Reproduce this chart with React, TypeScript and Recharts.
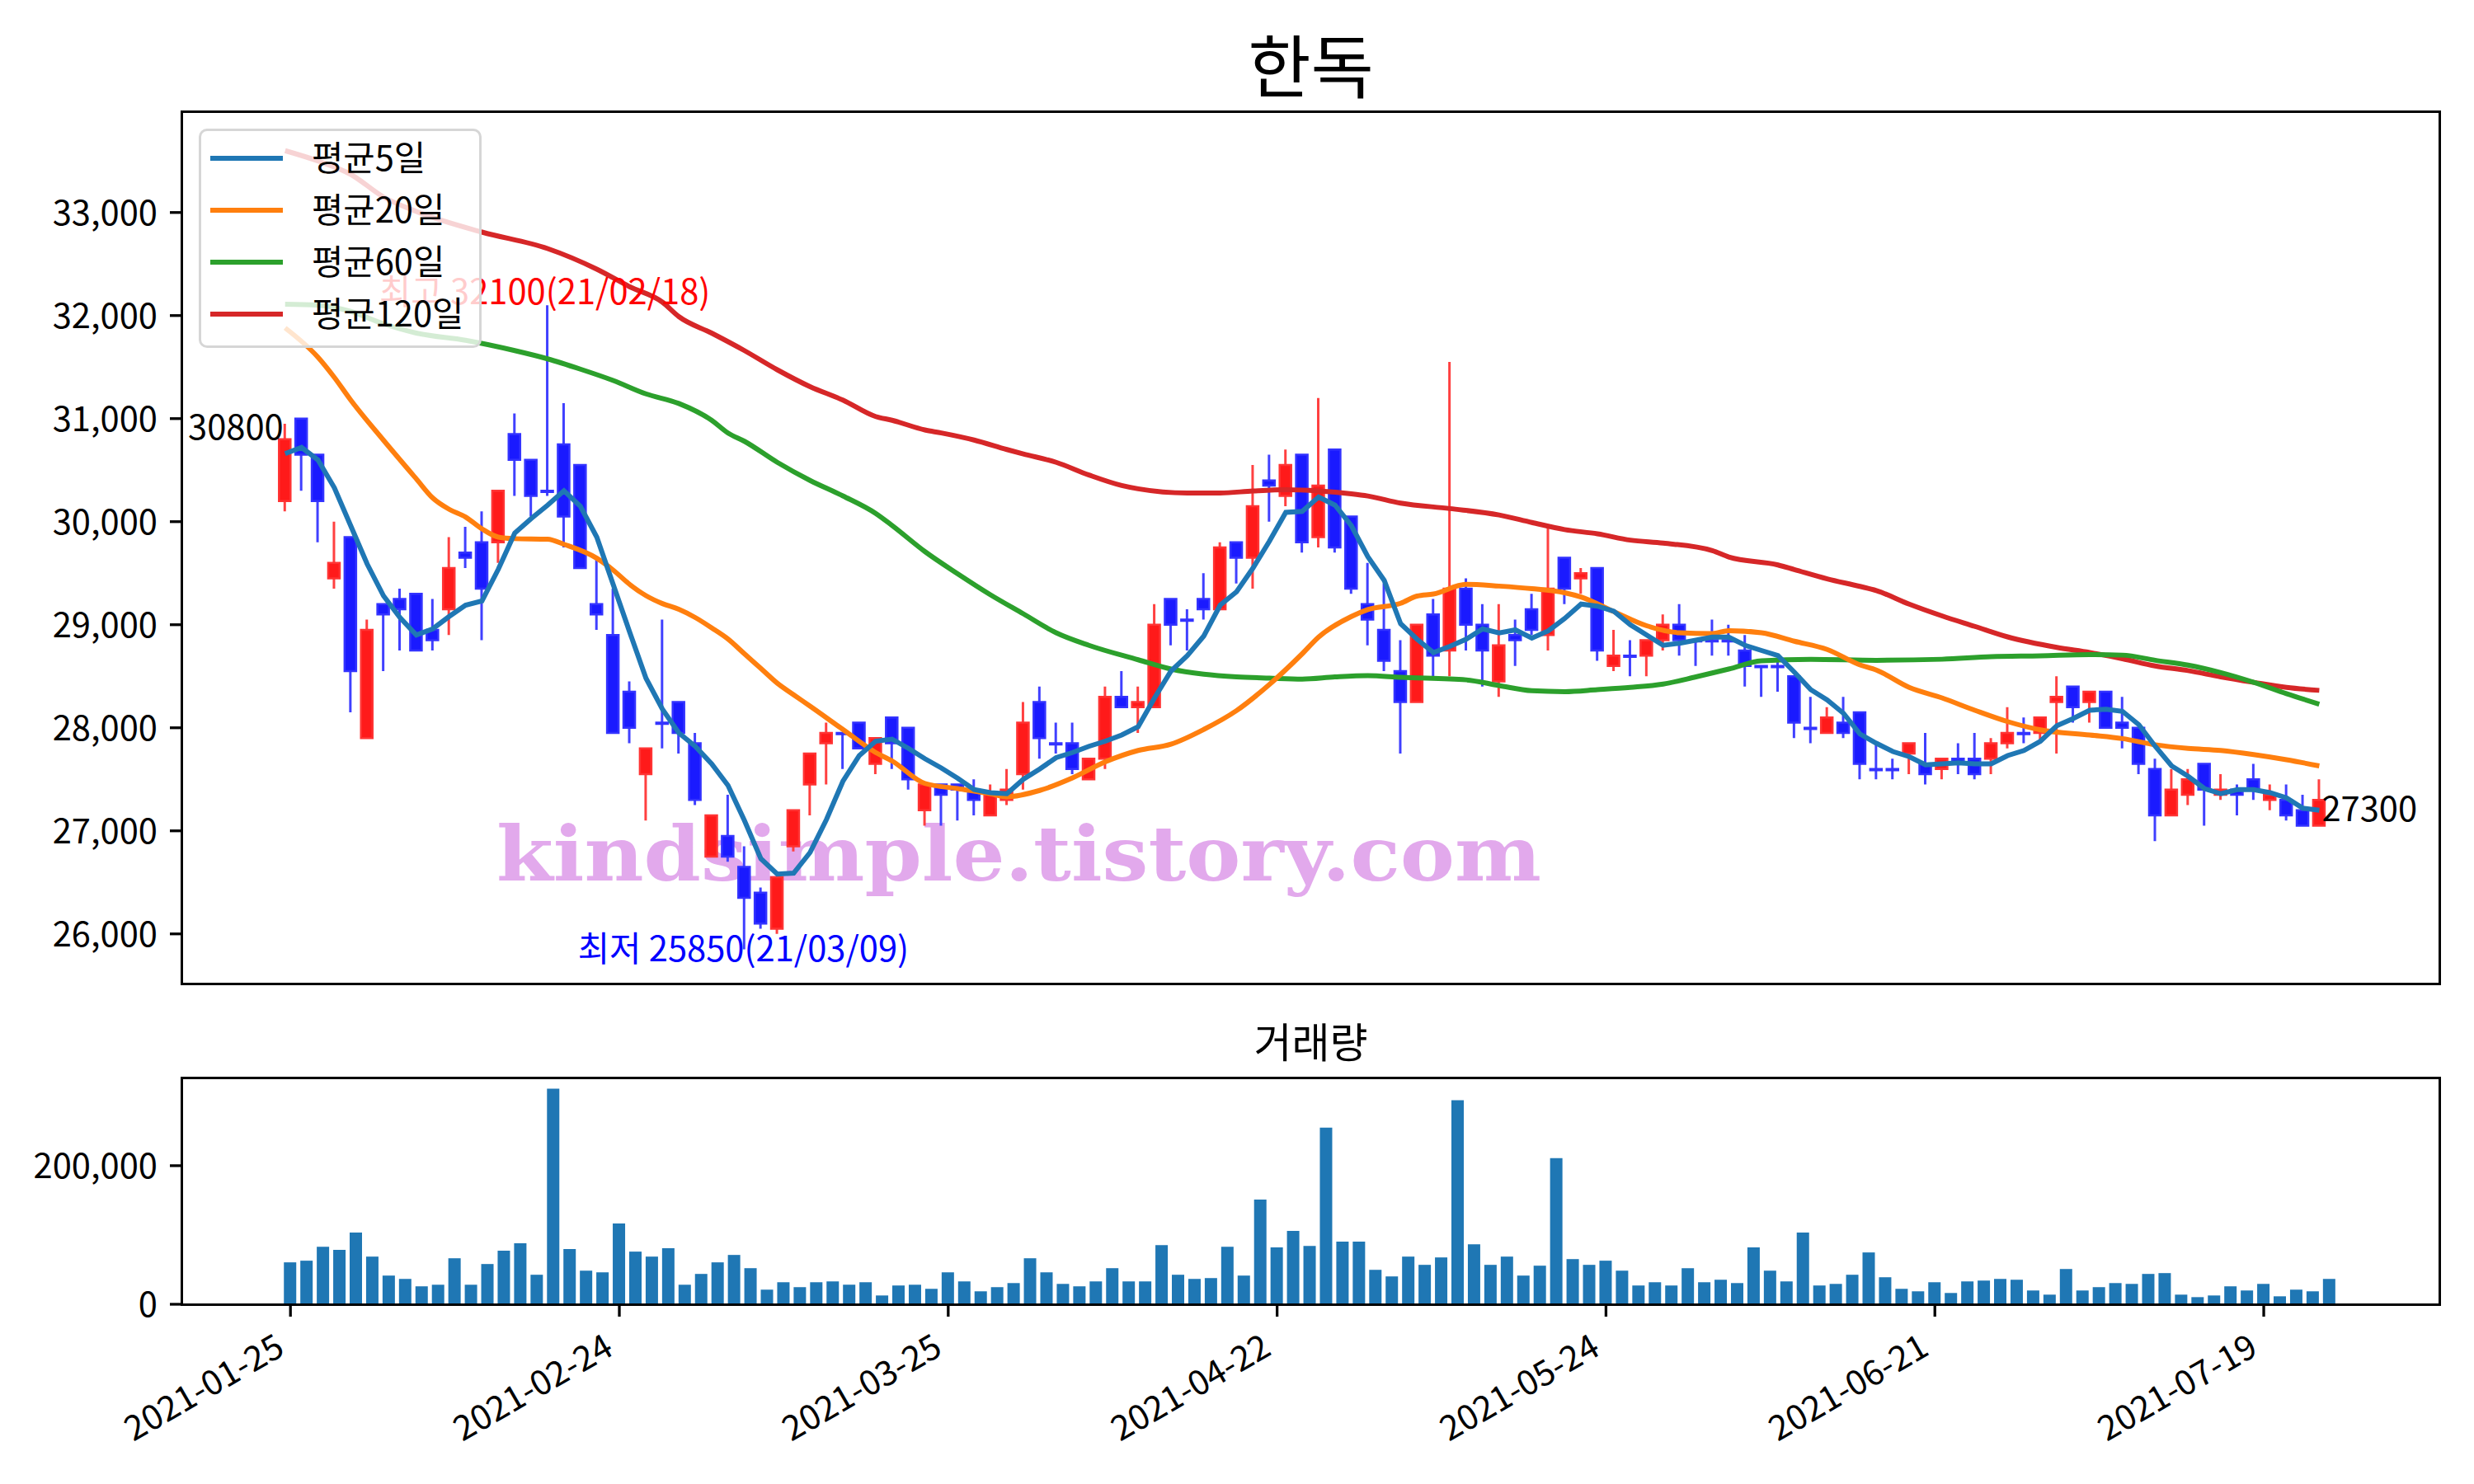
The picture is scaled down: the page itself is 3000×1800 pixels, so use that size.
import React from 'react';
import {
  ComposedChart,
  BarChart,
  Bar,
  Line,
  XAxis,
  YAxis,
  Legend,
  ReferenceDot,
} from 'recharts';

// 한독 daily candles, 2021-01-25 .. 2021-07-23 (trading-day index 0..124)
const opens = [
  30200, 31000, 30650, 29450, 29850, 27900, 29200, 29250, 29300, 28950,
  29150, 29700, 29800, 29800, 30850, 30600, 30300, 30750, 30550, 29200,
  28900, 28350, 27550, 28050, 28250, 27850, 26750, 26950, 26650, 26400,
  26050, 26850, 27450, 27850, 27950, 28050, 27650, 28100, 28000, 27200,
  27450, 27450, 27400, 27150, 27300, 27550, 28250, 27850, 27850, 27500,
  27700, 28300, 28200, 28200, 29250, 29050, 29250, 29150, 29800, 29650,
  30400, 30250, 30650, 29850, 30700, 30050, 29200, 28950, 28550, 28250,
  29100, 28750, 29350, 29000, 28450, 28900, 29150, 28900, 29650, 29450,
  29550, 28600, 28700, 28700, 28850, 29000, 28850, 28850, 28850, 28750,
  28600, 28600, 28500, 28000, 27950, 28050, 28150, 27600, 27600, 27750,
  27650, 27600, 27700, 27700, 27700, 27850, 27950, 27950, 28250, 28400,
  28250, 28350, 28050, 28000, 27600, 27150, 27350, 27650, 27350, 27400,
  27500, 27300, 27300, 27200, 27050,
];
const highs = [
  30950, 31000, 30650, 30000, 29850, 29050, 29200, 29350, 29300, 29250,
  29850, 29950, 30100, 30300, 31050, 30600, 32100, 31150, 30550, 29650,
  29350, 28450, 27800, 29050, 28250, 27950, 27150, 27350, 26850, 26450,
  26550, 27200, 27750, 28050, 27950, 28050, 27900, 28100, 28000, 27450,
  27450, 27450, 27500, 27450, 27600, 28250, 28400, 28050, 28050, 27700,
  28400, 28550, 28400, 29200, 29250, 29150, 29500, 29800, 29800, 30550,
  30650, 30700, 30650, 31200, 30700, 30050, 29600, 29400, 28850, 29000,
  29250, 31550, 29450, 29200, 29200, 29050, 29300, 29950, 29650, 29550,
  29550, 28950, 28850, 28850, 29100, 29200, 28850, 29050, 29000, 28900,
  28600, 28650, 28500, 28300, 28200, 28300, 28150, 27850, 27700, 27850,
  27950, 27700, 27850, 27950, 27900, 28200, 28100, 28100, 28500, 28400,
  28350, 28350, 28300, 28000, 27700, 27600, 27600, 27650, 27550, 27450,
  27650, 27450, 27450, 27350, 27500,
];
const lows = [
  30100, 30300, 29800, 29350, 28150, 27900, 28550, 28750, 28750, 28750,
  28900, 29550, 28850, 29600, 30250, 30050, 30250, 29750, 29550, 28950,
  27950, 27850, 27100, 27800, 27750, 27250, 26750, 26700, 25850, 26050,
  26000, 26800, 27150, 27450, 27600, 27800, 27550, 27600, 27400, 27050,
  27050, 27100, 27150, 27150, 27250, 27400, 27700, 27750, 27550, 27500,
  27600, 28200, 27950, 28200, 28800, 28750, 29050, 29150, 29400, 29350,
  30000, 30150, 29700, 29750, 29700, 29300, 28800, 28550, 27750, 28250,
  28500, 28500, 28750, 28400, 28300, 28600, 28900, 28750, 29200, 29300,
  28650, 28550, 28500, 28500, 28750, 28700, 28600, 28700, 28700, 28400,
  28300, 28350, 27900, 27850, 27950, 27900, 27500, 27500, 27500, 27550,
  27450, 27500, 27550, 27500, 27550, 27800, 27850, 27850, 27750, 28050,
  28050, 28000, 27800, 27550, 26900, 27150, 27250, 27050, 27300, 27150,
  27300, 27200, 27100, 27050, 27050,
];
const closes = [
  30800, 30650, 30200, 29600, 28550, 28950, 29100, 29150, 28750, 28850,
  29550, 29650, 29350, 30300, 30600, 30250, 30300, 30050, 29550, 29100,
  27950, 28000, 27800, 28050, 27950, 27300, 27150, 26750, 26350, 26100,
  26550, 27200, 27750, 27950, 27950, 27800, 27900, 27850, 27500, 27450,
  27350, 27400, 27300, 27350, 27400, 28050, 27900, 27850, 27600, 27700,
  28300, 28200, 28250, 29000, 29000, 29050, 29150, 29750, 29650, 30150,
  30350, 30550, 29800, 30350, 29750, 29350, 29050, 28650, 28250, 29000,
  28700, 29350, 29000, 28750, 28800, 28850, 28950, 29350, 29350, 29500,
  28750, 28700, 28700, 28850, 29000, 28850, 28850, 28850, 28850, 28600,
  28600, 28600, 28050, 28000, 28100, 27950, 27650, 27600, 27600, 27850,
  27550, 27700, 27650, 27550, 27850, 27950, 27950, 28100, 28300, 28200,
  28350, 28000, 28000, 27650, 27150, 27400, 27500, 27400, 27400, 27350,
  27400, 27350, 27150, 27050, 27300,
];
const volumes = [
  60500, 62900, 83100, 78400, 103400, 68800, 41400, 36600, 25900, 28200,
  66400, 28200, 58100, 77200, 87900, 42600, 311100, 79600, 48500, 46100,
  116600, 76000, 68800, 80800, 28200, 43800, 60500, 71200, 52100, 21100,
  31800, 24700, 31800, 33000, 28200, 31800, 12700, 27100, 28200, 22300,
  46100, 33000, 18700, 24700, 30600, 66400, 46100, 29400, 25900, 33000,
  52100, 33000, 33000, 85500, 42600, 36600, 37800, 83100, 41400, 151200,
  82000, 105800, 84300, 255000, 90300, 90300, 49700, 40200, 68800, 56900,
  67600, 294400, 86700, 56900, 68800, 41400, 55700, 210800, 65200, 56900,
  62900, 48500, 27100, 31800, 27100, 52100, 31800, 35400, 30600, 82000,
  48500, 33000, 103400, 27100, 29400, 42600, 74800, 39000, 22300, 18700,
  31800, 16300, 33000, 34200, 36600, 35400, 19900, 13900, 50900, 19900,
  24700, 30600, 29400, 43800, 45000, 13900, 10300, 12700, 25900, 19900,
  29400, 11500, 21100, 18700, 36600,
];
// 평균5일 line, read at every candle
const ma5 = [
  30660, 30720, 30600, 30330, 29960, 29590, 29280, 29070, 28900, 28960,
  29080, 29190, 29230, 29540, 29890, 30030, 30160, 30300, 30150, 29850,
  29390, 28930, 28480, 28180, 27950, 27820, 27650, 27440, 27100, 26730,
  26580, 26590, 26790, 27110, 27480, 27730, 27870, 27890, 27800, 27700,
  27610, 27510, 27400, 27370, 27360, 27500, 27600, 27710, 27760, 27820,
  27870, 27930, 28010, 28290, 28550, 28700, 28890, 29190, 29320, 29550,
  29810, 30090, 30100, 30240, 30160, 29960, 29660, 29430, 29010, 28860,
  28730, 28790, 28860, 28960, 28920, 28950, 28870, 28940, 29060, 29200,
  29180, 29130, 29000, 28900, 28800, 28820, 28850, 28880, 28880, 28800,
  28750, 28700, 28540, 28370, 28270, 28140, 27940, 27850, 27770, 27720,
  27640, 27650, 27660, 27650, 27650, 27730, 27780, 27870, 28020, 28090,
  28170, 28180, 28160, 28030, 27820, 27630, 27530, 27410, 27360, 27400,
  27400, 27370, 27320, 27220, 27200,
];
// longer averages at [index, value]
const ma20: [number, number][] = [
  [0, 31880], [2, 31596], [3, 31400], [4, 31180], [6, 30790], [8, 30415], [9, 30230],
  [10, 30120], [11, 30045], [12, 29930], [13, 29850], [14, 29835], [16, 29830], [17, 29780],
  [19, 29645], [20, 29530], [21, 29392], [22, 29282], [23, 29205], [24, 29150], [25, 29070],
  [26, 28970], [27, 28861], [28, 28718], [29, 28576], [30, 28433], [31, 28320], [32, 28210],
  [34, 27984], [36, 27760], [37, 27678], [39, 27460], [41, 27410], [43, 27360], [44, 27331],
  [46, 27392], [48, 27514], [50, 27670], [52, 27780], [54, 27841], [56, 27984], [58, 28167],
  [60, 28420], [62, 28718], [63, 28880], [65, 29080], [66, 29147], [68, 29208], [69, 29278],
  [70, 29298], [72, 29392], [74, 29375], [76, 29350], [78, 29310], [79, 29269], [81, 29127],
  [83, 28990], [85, 28922], [87, 28914], [88, 28943], [90, 28922], [92, 28840], [94, 28760],
  [96, 28610], [97, 28560], [99, 28392], [101, 28290], [103, 28170], [105, 28060], [107, 27980],
  [110, 27930], [112, 27895], [114, 27835], [116, 27800], [118, 27780], [120, 27740],
  [122, 27690], [124, 27630],
];
const ma60: [number, number][] = [
  [0, 32110], [2, 32100], [4, 32040], [6, 31920], [8, 31830], [11, 31760], [14, 31660],
  [16, 31580], [18, 31480], [20, 31370], [22, 31240], [24, 31147], [26, 30984], [27, 30860],
  [28, 30780], [30, 30576], [32, 30400], [34, 30250], [36, 30080], [37, 29963], [39, 29710],
  [41, 29494], [43, 29290], [45, 29106], [47, 28922], [49, 28800], [52, 28660], [54, 28570],
  [56, 28520], [58, 28494], [60, 28482], [62, 28473], [64, 28494], [66, 28506], [68, 28490],
  [72, 28465], [74, 28410], [76, 28360], [78, 28351], [80, 28370], [82, 28392], [84, 28424],
  [86, 28494], [88, 28570], [90, 28650], [93, 28665], [97, 28655], [101, 28665], [104, 28690],
  [107, 28698], [110, 28710], [112, 28705], [114, 28655], [116, 28608], [118, 28535],
  [120, 28441], [122, 28331], [124, 28229],
];
const ma120: [number, number][] = [
  [0, 33600], [2, 33500], [4, 33370], [6, 33150], [8, 33010], [12, 32810], [16, 32650],
  [19, 32450], [21, 32280], [23, 32130], [24, 31990], [26, 31830], [28, 31660], [30, 31474],
  [32, 31310], [34, 31180], [36, 31020], [37, 30984], [39, 30890], [40, 30861], [42, 30792],
  [44, 30700], [45, 30657], [47, 30576], [49, 30453], [51, 30351], [52, 30319], [55, 30278],
  [57, 30278], [59, 30298], [61, 30310], [63, 30298], [65, 30270], [66, 30249], [68, 30180],
  [71, 30127], [74, 30065], [76, 29992], [78, 29923], [80, 29882], [82, 29821], [84, 29792],
  [87, 29719], [88, 29657], [91, 29580], [92, 29535], [94, 29445], [96, 29372], [97, 29331],
  [99, 29200], [101, 29086], [103, 28984], [105, 28882], [108, 28780], [110, 28730],
  [112, 28670], [114, 28600], [116, 28555], [118, 28494], [120, 28441], [122, 28392],
  [124, 28363],
];

const tickIdx = [0, 20, 40, 60, 80, 100, 120];
const tickLabels = ['2021-01-25', '2021-02-24', '2021-03-25', '2021-04-22', '2021-05-24', '2021-06-21', '2021-07-19'];
const priceTicks = [26000, 27000, 28000, 29000, 30000, 31000, 32000, 33000];
const volTicks = [0, 200000];

const legendItems = [
  { name: '평균5일', color: '#1f77b4' },
  { name: '평균20일', color: '#ff7f0e' },
  { name: '평균60일', color: '#2ca02c' },
  { name: '평균120일', color: '#d62728' },
];

const FONT = "'Noto Sans CJK KR', 'Noto Sans', sans-serif";
const FS = 41.7;

const rows = closes.map((c, i) => ({
  i,
  open: opens[i],
  high: highs[i],
  low: lows[i],
  close: c,
  ma5: ma5[i],
}));
const volRows = volumes.map((v, i) => ({ i, vol: v }));
const toRows = (pairs: [number, number][]) => pairs.map(([i, v]) => ({ i, v }));

const fmt = (v: number) => v.toLocaleString('en-US');

function Candle(props: any) {
  const { x, y, width, height, payload } = props;
  const { open, close, high, low } = payload;
  const top = Math.min(y, y + height);
  const h = Math.abs(height);
  const cx = x + width / 2;
  const span = high - low;
  const py = (v: number) => (span > 0 ? top + ((high - v) / span) * h : top);
  const up = close > open;
  const b1 = py(Math.max(open, close));
  const b2 = py(Math.min(open, close));
  const bw = 14;
  return (
    <g>
      <line x1={cx} x2={cx} y1={top} y2={top + h} stroke={up ? '#ff4040' : '#4040ff'} strokeWidth={3} />
      <rect
        x={cx - bw / 2}
        y={b1}
        width={bw}
        height={Math.max(b2 - b1, 1.5)}
        fill={up ? '#ff1a1a' : '#1a1aff'}
        stroke={up ? '#ff3333' : '#3333ff'}
        strokeWidth={2.5}
      />
    </g>
  );
}

function LegendBox() {
  return (
    <div
      style={{
        position: 'relative',
        width: 343,
        height: 266,
        boxSizing: 'border-box',
        border: '3px solid #d6d6d6',
        borderRadius: 10,
        background: 'rgba(255,255,255,0.8)',
      }}
    >
      <svg width={343} height={266} style={{ position: 'absolute', left: -3, top: -3 }}>
        {legendItems.map((it, k) => {
          const cy = 36 + k * 63;
          return (
            <g key={it.name}>
              <line x1={14} x2={102} y1={cy} y2={cy} stroke={it.color} strokeWidth={6} />
              <text x={137} y={cy + 15} fontSize={FS} fontFamily={FONT} fill="#000">
                {it.name}
              </text>
            </g>
          );
        })}
      </svg>
    </div>
  );
}

function DateTick(props: any) {
  const { x, y, payload } = props;
  const k = tickIdx.indexOf(payload.value);
  const px = x - 5;
  const py = y + 45;
  return (
    <text
      x={px}
      y={py}
      textAnchor="end"
      transform={`rotate(-30, ${px}, ${py})`}
      fontSize={FS}
      fontFamily={FONT}
      fill="#000"
    >
      {k >= 0 ? tickLabels[k] : ''}
    </text>
  );
}

const frame = (left: number, top: number, right: number, bottom: number): React.CSSProperties => ({
  position: 'absolute',
  left: left - 1.65,
  top: top - 1.65,
  width: right - left + 3.3,
  height: bottom - top + 3.3,
  border: '3.3px solid #000',
  boxSizing: 'border-box',
  pointerEvents: 'none',
  zIndex: 5,
});

export default function App() {
  return (
    <div style={{ position: 'absolute', left: 0, top: 0, width: 3000, height: 1800, background: '#fff', overflow: 'hidden' }}>
      <svg width={3000} height={1800} style={{ position: 'absolute', left: 0, top: 0 }}>
        <text x={1589.5} y={112} textAnchor="middle" fontSize={83} fontFamily={FONT} fill="#000">
          한독
        </text>
        <text x={1589.5} y={1283} textAnchor="middle" fontSize={50} fontFamily={FONT} fill="#000">
          거래량
        </text>
        <text
          x={602}
          y={1068}
          textLength={1267}
          lengthAdjust="spacingAndGlyphs"
          fontSize={92}
          fontWeight="bold"
          fontFamily="'DejaVu Serif', serif"
          fill="#e2a9ec"
        >
          kindsimple.tistory.com
        </text>
      </svg>

      <div style={{ position: 'absolute', left: 0, top: 0, zIndex: 2 }}>
        <ComposedChart width={3000} height={1260} data={rows} margin={{ top: 136, right: 42, bottom: 47, left: 0 }}>
          <XAxis
            dataKey="i"
            type="number"
            domain={[-6.27, 131.32]}
            allowDataOverflow
            ticks={tickIdx}
            tick={false}
            tickLine={{ stroke: '#000', strokeWidth: 3.3 }}
            tickSize={15}
            axisLine={false}
            height={20}
          />
          <YAxis
            type="number"
            domain={[25518, 33974]}
            allowDataOverflow
            ticks={priceTicks}
            tickFormatter={fmt}
            tick={{ fontSize: FS, fontFamily: FONT, fill: '#000' }}
            tickLine={{ stroke: '#000', strokeWidth: 3.3 }}
            tickSize={15}
            tickMargin={15}
            axisLine={false}
            width={221}
          />
          <Bar dataKey={(d: any) => [d.low, d.high]} barSize={15} shape={<Candle />} isAnimationActive={false} />
          <Line type="monotone" data={toRows(ma120)} dataKey="v" stroke="#d62728" strokeWidth={6} dot={false} isAnimationActive={false} />
          <Line type="monotone" data={toRows(ma60)} dataKey="v" stroke="#2ca02c" strokeWidth={6} dot={false} isAnimationActive={false} />
          <Line type="monotone" data={toRows(ma20)} dataKey="v" stroke="#ff7f0e" strokeWidth={6} dot={false} isAnimationActive={false} />
          <Line type="linear" dataKey="ma5" stroke="#1f77b4" strokeWidth={6} dot={false} isAnimationActive={false} />
          <ReferenceDot
            x={16}
            y={32100}
            r={0}
            shape={(p: any) => (
              <text x={p.cx - 204} y={p.cy - 1} fontSize={FS} fontFamily={FONT} fill="#ff0000">
                최고 32100(21/02/18)
              </text>
            )}
          />
          <ReferenceDot
            x={28}
            y={25850}
            r={0}
            shape={(p: any) => (
              <text x={p.cx - 202} y={p.cy + 14} fontSize={FS} fontFamily={FONT} fill="#0000ff">
                최저 25850(21/03/09)
              </text>
            )}
          />
          <ReferenceDot
            x={0}
            y={30800}
            r={0}
            shape={(p: any) => (
              <text x={p.cx - 2} y={p.cy} textAnchor="end" fontSize={FS} fontFamily={FONT} fill="#000">
                30800
              </text>
            )}
          />
          <ReferenceDot
            x={124}
            y={27300}
            r={0}
            shape={(p: any) => (
              <text x={p.cx + 3} y={p.cy + 26} fontSize={FS} fontFamily={FONT} fill="#000">
                27300
              </text>
            )}
          />
          <Legend
            layout="vertical"
            align="center"
            verticalAlign="middle"
            content={() => <LegendBox />}
            wrapperStyle={{ position: 'absolute', left: 241, top: 156, width: 343, height: 266 }}
          />
        </ComposedChart>
      </div>
      <div style={frame(221, 136, 2958, 1193)} />

      <div style={{ position: 'absolute', left: 0, top: 1230, zIndex: 2 }}>
        <BarChart width={3000} height={570} data={volRows} margin={{ top: 78, right: 42, bottom: 18, left: 0 }}>
          <XAxis
            dataKey="i"
            type="number"
            domain={[-6.58, 130.68]}
            allowDataOverflow
            ticks={tickIdx}
            tick={<DateTick />}
            tickLine={{ stroke: '#000', strokeWidth: 3.3 }}
            tickSize={15}
            tickMargin={0}
            axisLine={false}
            height={200}
            interval={0}
          />
          <YAxis
            type="number"
            domain={[0, 326000]}
            allowDataOverflow
            ticks={volTicks}
            tickFormatter={fmt}
            tick={{ fontSize: FS, fontFamily: FONT, fill: '#000' }}
            tickLine={{ stroke: '#000', strokeWidth: 3.3 }}
            tickSize={15}
            tickMargin={15}
            axisLine={false}
            width={221}
          />
          <Bar dataKey="vol" fill="#1f77b4" barSize={15} isAnimationActive={false} />
        </BarChart>
      </div>
      <div style={frame(221, 1308, 2958, 1582)} />
    </div>
  );
}
